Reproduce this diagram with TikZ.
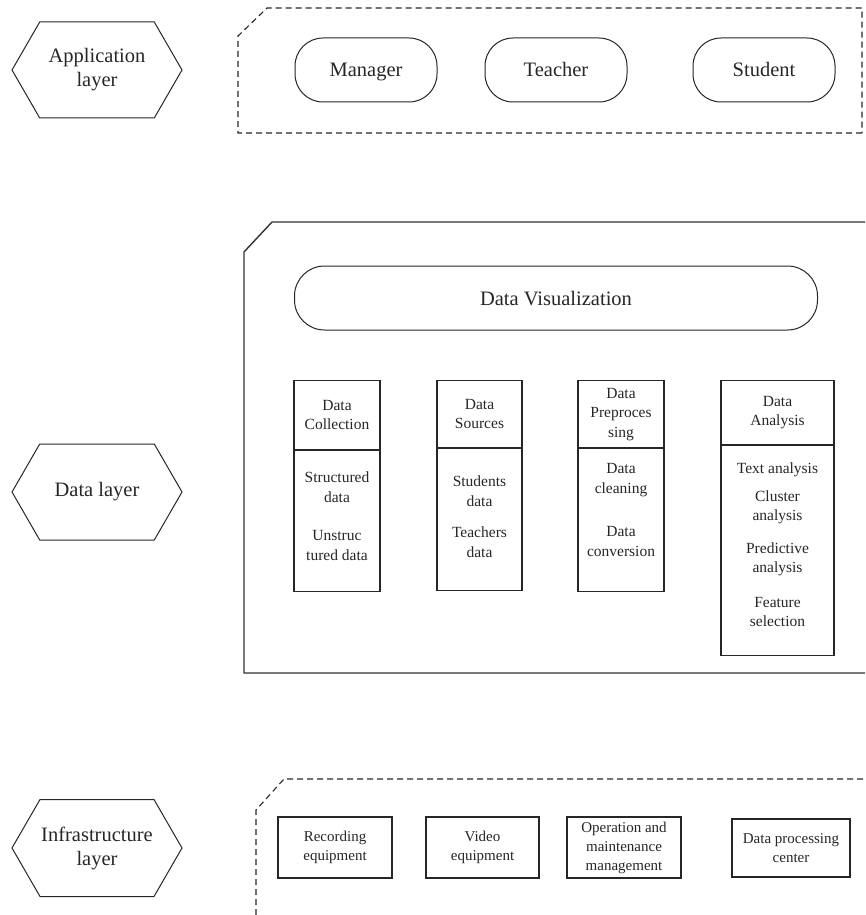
\documentclass[tikz,border=0pt]{standalone}
\usepackage{fontspec}
\setmainfont{Liberation Serif}
\usepackage{tikz}
\usetikzlibrary{shapes.symbols}

\begin{document}
\begin{tikzpicture}[ x=1pt, y=-1pt,
      every node/.style={color=black!85, align=center, inner sep=0pt},
      layer/.style={ draw=black!85, line width=1pt, signal, signal from=nowhere,
        signal to=west and east, signal pointer angle=120, minimum width=170,
        minimum height=96, font=\fontsize{20.5}{24}\selectfont},
      actor/.style={ draw=black!85, line width=1pt, rounded corners=28pt,
        minimum width=142, minimum height=64, text height=14pt, text depth=0pt,
        font=\fontsize{20.5}{24}\selectfont},
      colhead/.style={ draw=black!85, line width=1.2pt, anchor=north,
        font=\fontsize{15.5}{19.5}\selectfont},
      coltext/.style={ font=\fontsize{15.5}{19.5}\selectfont},
      equip/.style={ draw=black!85, line width=1.1pt, minimum height=61,
        font=\fontsize{15}{19}\selectfont},
      dashed line/.style={ draw=black!85, line width=1.1pt, dash pattern=on 6pt off 4pt},
      frame line/.style={ draw=black!80, line width=1.4pt}
      ]
      \useasboundingbox (0,0) rectangle (865,915);

      % application layer
      \node[layer] (AppLayer) at (97,70) {Application\\layer};
      \draw[dashed line] (862,133) -- (238,133) -- (238,36) -- (267,8) -- (862,8) -- cycle;
      \node[actor] (Manager) at (366,70) {Manager};
      \node[actor] (Teacher) at (556,70) {Teacher};
      \node[actor] (Student) at (764,70) {Student};

      % data layer
      \node[layer] (DataLayer) at (97,492) {Data layer};
      \draw[frame line] (865,222) -- (272,222) -- (244,252) -- (244,673) -- (865,673);
      \node[actor, rounded corners=30pt, minimum width=523] (DataVis) at (556,298) {Data Visualization};

      \node[colhead, minimum width=86, minimum height=69] (CollHead) at (337,380) {Data\\Collection};
      \node[colhead, minimum width=86, minimum height=141] (CollBody) at (CollHead.south) {};
      \node[coltext] (CollText) at (337,516) {Structured\\data\\[19pt]Unstruc\\tured data};

      \node[colhead, minimum width=85, minimum height=67] (SrcHead) at (479.5,380) {Data\\Sources};
      \node[colhead, minimum width=85, minimum height=142] (SrcBody) at (SrcHead.south) {};
      \node[coltext] (SrcText) at (479.5,516.5) {Students\\data\\[12pt]Teachers\\data};

      \node[colhead, minimum width=86, minimum height=67] (PreHead) at (621,380) {Data\\Preproces\\sing};
      \node[colhead, minimum width=86, minimum height=143] (PreBody) at (PreHead.south) {};
      \node[coltext] (PreText) at (621,510) {Data\\cleaning\\[24pt]Data\\conversion};

      \node[colhead, minimum width=113, minimum height=64] (AnaHead) at (777.5,380) {Data\\Analysis};
      \node[colhead, minimum width=113, minimum height=210] (AnaBody) at (AnaHead.south) {};
      \node[coltext] (AnaText) at (777.5,545)
        {Text analysis\\[8pt]Cluster\\analysis\\[13pt]Predictive\\analysis\\[15pt]Feature\\selection};

      % infrastructure layer
      \node[layer, minimum height=97] (InfraLayer) at (97,848) {Infrastructure\\layer};
      \draw[dashed line] (256,915) -- (256,810) -- (284,779) -- (865,779);
      \node[equip, minimum width=114] (Recording) at (335,847.5) {Recording\\equipment};
      \node[equip, minimum width=113] (Video) at (482.5,847.5) {Video\\equipment};
      \node[equip, minimum width=114] (Operation) at (624,847.5) {Operation and\\maintenance\\management};
      \node[equip, minimum width=118, minimum height=58] (Center) at (791,848) {Data processing\\center};
    \end{tikzpicture}
\end{document}
